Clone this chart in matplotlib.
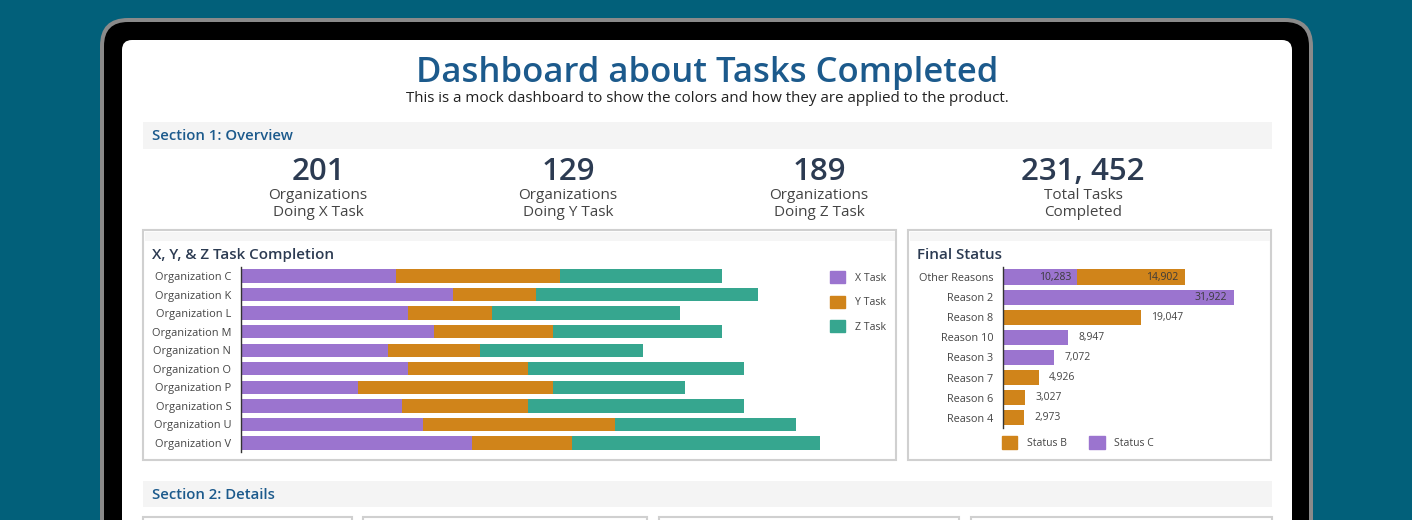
import matplotlib
matplotlib.use("Agg")
import matplotlib.pyplot as plt
from matplotlib.patches import FancyBboxPatch, Rectangle, Patch

plt.rcParams['font.family'] = ['Open Sans', 'DejaVu Sans']

W, H = 1412, 520

# ---- data ----
organizations = ['Organization C', 'Organization K', 'Organization L', 'Organization M',
                 'Organization N', 'Organization O', 'Organization P', 'Organization S',
                 'Organization U', 'Organization V']
x_task = [155, 212, 167, 193, 147, 167, 117, 161, 182, 231]
y_task = [164, 83, 84, 119, 92, 120, 195, 126, 192, 100]
z_task = [162, 222, 188, 169, 163, 216, 132, 216, 181, 248]

reasons = ['Other Reasons', 'Reason 2', 'Reason 8', 'Reason 10', 'Reason 3',
           'Reason 7', 'Reason 6', 'Reason 4']
status_c = [10283, 31922, 0, 8947, 7072, 0, 0, 0]
status_b = [14902, 0, 19047, 0, 0, 4926, 3027, 2973]

kpi_values = ['201', '129', '189', '231, 452']
kpi_line1 = ['Organizations', 'Organizations', 'Organizations', 'Total Tasks']
kpi_line2 = ['Doing X Task', 'Doing Y Task', 'Doing Z Task', 'Completed']

PURPLE = '#9b74cf'
ORANGE = '#d0841a'
TEAL = '#36a68f'
BLUE = '#1c5a8c'
NAVY = '#2c3b52'
GREY_TXT = '#444444'


def px_axes(fig, x0, y0, x1, y1):
    return fig.add_axes([x0 / W, 1 - y1 / H, (x1 - x0) / W, (y1 - y0) / H])


fig = plt.figure(figsize=(W / 100, H / 100), dpi=100)
fig.patch.set_facecolor('#02607a')

bg = fig.add_axes([0, 0, 1, 1])
bg.set_xlim(0, W)
bg.set_ylim(H, 0)
bg.axis('off')

# device frame
bg.add_patch(FancyBboxPatch((100, 18), 1213, 560, boxstyle='round,pad=0,rounding_size=28',
                            fc='#8a8a8a', ec='none'))
bg.add_patch(FancyBboxPatch((104, 22), 1205, 560, boxstyle='round,pad=0,rounding_size=24',
                            fc='black', ec='none'))
bg.add_patch(FancyBboxPatch((122, 40), 1170, 560, boxstyle='round,pad=0,rounding_size=10',
                            fc='white', ec='none'))

# header
bg.text(707, 73, 'Dashboard about Tasks Completed', ha='center', va='center',
        fontsize=24.9, fontweight='semibold', color=BLUE)
bg.text(707, 99, 'This is a mock dashboard to show the colors and how they are applied to the product.',
        ha='center', va='center', fontsize=10.9, color='#222222')

# section bars
for y, h, label in [(122, 27, 'Section 1: Overview'), (481, 26, 'Section 2: Details')]:
    bg.add_patch(Rectangle((143, y), 1129, h, fc='#f4f4f4', ec='none'))
    bg.text(152, y + h / 2 + 1, label, ha='left', va='center', fontsize=10.7,
            fontweight='semibold', color=BLUE)

# KPIs
for cx, val, l1, l2 in zip([318, 568, 819, 1083], kpi_values, kpi_line1, kpi_line2):
    bg.text(cx, 172, val, ha='center', va='center', fontsize=22.5, fontweight='semibold', color=NAVY)
    bg.text(cx, 195.5, l1, ha='center', va='center', fontsize=11, color=GREY_TXT)
    bg.text(cx, 212.5, l2, ha='center', va='center', fontsize=11, color=GREY_TXT)

# panels
for x0, w, title in [(143, 753, 'X, Y, & Z Task Completion'), (908, 363, 'Final Status')]:
    bg.add_patch(Rectangle((x0, 230), w, 230, fc='white', ec='#d0d0d0', lw=1.5))
    bg.add_patch(Rectangle((x0 + 1.5, 231.5), w - 3, 9, fc='#f5f5f5', ec='none'))
    bg.text(x0 + 9, 255, title, ha='left', va='center', fontsize=10.9,
            fontweight='semibold', color=NAVY)

# section 2 boxes (cut off)
for x0, x1 in [(143, 352), (363, 647), (659, 959), (971, 1272)]:
    bg.add_patch(Rectangle((x0, 517), x1 - x0, 30, fc='white', ec='#d0d0d0', lw=1.5))

# ---- task completion chart ----
ax1 = px_axes(fig, 241, 266.7, 821, 452.3)
ax1.set_facecolor('none')
rows = list(range(len(organizations)))
left_y = [a for a in x_task]
left_z = [a + b for a, b in zip(x_task, y_task)]
ax1.barh(rows, x_task, height=0.72, color=PURPLE, label='X Task')
ax1.barh(rows, y_task, left=left_y, height=0.72, color=ORANGE, label='Y Task')
ax1.barh(rows, z_task, left=left_z, height=0.72, color=TEAL, label='Z Task')
ax1.set_xlim(0, 580)
ax1.set_ylim(len(organizations) - 0.5, -0.5)
ax1.set_yticks(rows)
ax1.set_yticklabels(organizations)
ax1.set_xticks([])
ax1.tick_params(axis='y', length=0, pad=7, labelsize=7.9, labelcolor=GREY_TXT)
for s in ['top', 'right', 'bottom']:
    ax1.spines[s].set_visible(False)
ax1.spines['left'].set_color('#333333')
ax1.spines['left'].set_linewidth(1)
ax1.legend(handles=[Patch(color=PURPLE), Patch(color=ORANGE), Patch(color=TEAL)],
           labels=['X Task', 'Y Task', 'Z Task'], loc='upper left',
           bbox_to_anchor=(825 / W, 1 - 266 / H), bbox_transform=fig.transFigure,
           frameon=False, fontsize=7.6, handlelength=1.35, handleheight=1.35,
           handletextpad=1.0, labelspacing=1.15, borderpad=0, labelcolor=GREY_TXT)

# ---- final status chart ----
ax2 = px_axes(fig, 1003, 267, 1263, 427.8)
ax2.set_facecolor('none')
rows2 = list(range(len(reasons)))
ax2.barh(rows2, status_c, height=0.76, color=PURPLE)
ax2.barh(rows2, status_b, left=status_c, height=0.76, color=ORANGE)
ax2.set_xlim(0, 36000)
ax2.set_ylim(len(reasons) - 0.5, -0.5)
ax2.set_yticks(rows2)
ax2.set_yticklabels(reasons)
ax2.set_xticks([])
ax2.tick_params(axis='y', length=0, pad=7, labelsize=7.8, labelcolor=GREY_TXT)
for s in ['top', 'right', 'bottom']:
    ax2.spines[s].set_visible(False)
ax2.spines['left'].set_color('#333333')
ax2.spines['left'].set_linewidth(1)

for i, (c, b) in enumerate(zip(status_c, status_b)):
    total = c + b
    segs = [(0, c), (c, b)]
    for k, (start, val) in enumerate(segs):
        if val <= 0:
            continue
        end = start + val
        last = (end == total)
        if last and total < 20000:
            ax2.annotate(f'{val:,}', (end, i), xytext=(7.5, 0), textcoords='offset points',
                         ha='left', va='center', fontsize=7.5, color=GREY_TXT)
        else:
            ax2.annotate(f'{val:,}', (end, i), xytext=(-4.5, 0), textcoords='offset points',
                         ha='right', va='center', fontsize=7.5, color='#3a3a3a')

ax2.legend(handles=[Patch(color=ORANGE), Patch(color=PURPLE)],
           labels=['Status B', 'Status C'], loc='center left', ncol=2,
           bbox_to_anchor=(997 / W, 1 - 442.5 / H), bbox_transform=fig.transFigure,
           frameon=False, fontsize=7.5, handlelength=1.45, handleheight=1.45,
           handletextpad=0.9, columnspacing=2.2, borderpad=0, labelcolor=GREY_TXT)

fig.savefig('out.png', dpi=100, facecolor=fig.get_facecolor())
